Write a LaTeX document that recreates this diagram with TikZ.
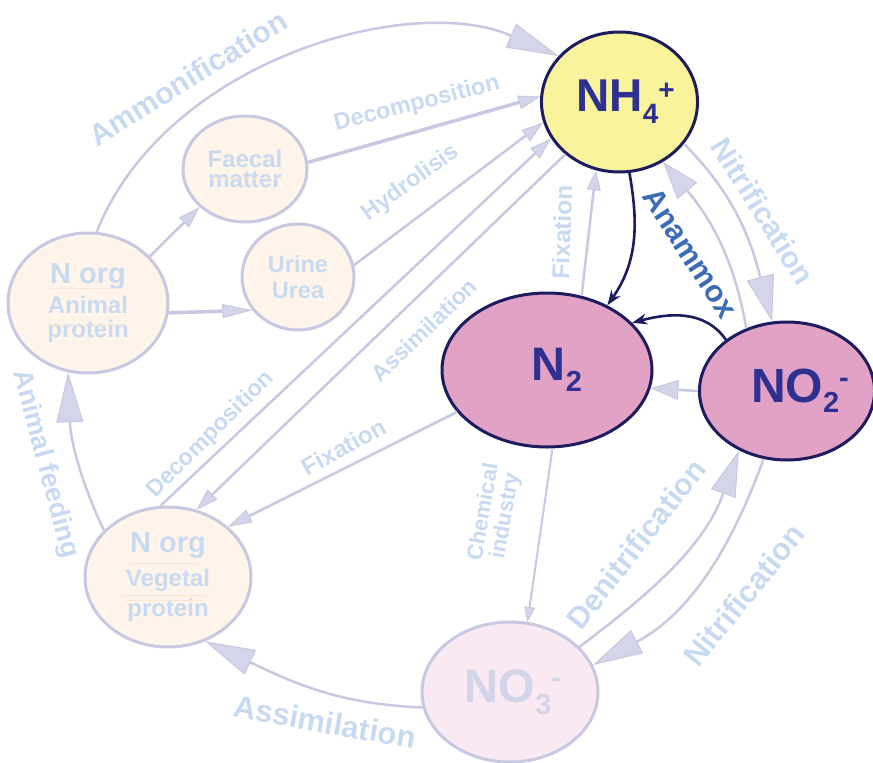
\documentclass[tikz,border=0pt]{standalone}
\usepackage{fontspec}
\setmainfont{Liberation Sans}
\usetikzlibrary{arrows.meta,shapes.geometric}

\definecolor{paleline}{HTML}{C8C8E2}
\definecolor{headfill}{HTML}{D4D4EA}
\definecolor{paletext}{HTML}{C7DAF1}
\definecolor{cream}{HTML}{FEF4EA}
\definecolor{creamrule}{HTML}{FBE4D0}
\definecolor{navy}{HTML}{1C1C5E}
\definecolor{inktext}{HTML}{2E3192}
\definecolor{yellowfill}{HTML}{F9F39B}
\definecolor{pinkfill}{HTML}{E2A2C6}
\definecolor{palepink}{HTML}{FAE9F3}
\definecolor{nothreetext}{HTML}{D2D4EA}
\definecolor{anammoxtext}{HTML}{3B6CB7}

\newcommand{\fs}[1]{\fontsize{#1}{#1}\selectfont}

\tikzset{
  pool/.style={ellipse, inner sep=0pt, line width=3pt, font=\bfseries},
  organic/.style={pool, draw=paleline, fill=cream, text=paletext, align=center},
  mineral/.style={pool, draw=navy, text=inktext},
  flow/.style={draw=paleline, line width=2.5pt},
  tip/.style 2 args={-{Triangle[length=#1pt,width=#2pt,fill=headfill,line width=1pt]}},
  darkflow/.style={draw=navy, line width=2.6pt, -{Stealth[length=15pt,width=11pt]}},
  lbl/.style={text=paletext, font=\bfseries, inner sep=0pt},
  rule/.style={draw=creamrule, line width=0.6pt},
}

\begin{document}
\begin{tikzpicture}[x=1pt,y=1pt]
\useasboundingbox (0,0) rectangle (873,-763);

% ---- pools ----
\node[mineral, fill=yellowfill, minimum width=153pt, minimum height=140pt] (nh4) at (619.5,-102)
  {\hspace*{12pt}\fs{46}NH\raisebox{-12pt}{\fs{28}4}\raisebox{12pt}{\fs{28}+}};
\node[mineral, fill=pinkfill, minimum width=210pt, minimum height=154pt] (n2) at (547,-370)
  {\hspace*{20pt}\fs{47}N\raisebox{-11pt}{\fs{29}2}};
\node[mineral, fill=pinkfill, minimum width=170pt, minimum height=138pt] (no2) at (787,-391)
  {\hspace*{26pt}\fs{48}NO\raisebox{-10pt}{\fs{29}2}\raisebox{15pt}{\fs{29}-}};
\node[pool, draw=paleline, fill=palepink, text=nothreetext, minimum width=176pt, minimum height=140pt] (no3) at (510,-692)
  {\hspace*{6pt}\fs{47}NO\raisebox{-12pt}{\fs{29}3}\raisebox{15pt}{\fs{29}-}};
\node[organic, minimum width=124pt, minimum height=106pt] (faecal) at (245,-169)
  {\fs{24}Faecal\\[3pt]\fs{24}matter};
\node[organic, minimum width=112pt, minimum height=106pt] (urine) at (298,-277)
  {\fs{23.5}Urine\\[9pt]\fs{23.5}Urea};
\node[organic, minimum width=160pt, minimum height=140pt] (animal) at (88,-303)
  {\fs{29}N org\\[6pt]\fs{24}Animal\\[5pt]\fs{24}protein};
\node[organic, minimum width=166pt, minimum height=140pt] (vegetal) at (168,-577)
  {\fs{29}N org\\[9pt]\fs{24}Vegetal\\[7pt]\fs{24}protein};

% faint rules between the text lines
\draw[rule] (209,-178) -- (282,-178);
\draw[rule] (50,-288) -- (120,-288);
\draw[rule] (48,-325) -- (126,-325);
\draw[rule] (130,-563) -- (198,-563);
\draw[rule] (123,-595) -- (206,-595);
\draw[rule] (125,-600) -- (204,-600);

% ---- pale flows ----
\draw[flow, tip={52}{26}] (animal.83) .. controls (165,-60) and (410,8) .. (nh4.143);
\draw[flow, line width=3.5pt, tip={22}{14}] (faecal.6) -- (nh4.176);
\draw[flow, tip={22}{14}] (urine.12) -- (nh4.195);
\draw[flow, tip={22}{14}] (vegetal.96) -- (nh4.208);
\draw[flow, tip={22}{14}] (nh4.224) -- (vegetal.67);
\draw[flow, tip={20}{14}] (n2.65) -- (nh4.251);
\draw[flow, tip={24}{14}] (n2.205) -- (vegetal.40);
\draw[flow, tip={38}{26}] (no2.123) to[out=100,in=-50] (nh4.306);
\draw[flow, tip={46}{28}] (nh4.327) to[out=-45,in=105] (no2.102);
\draw[flow, tip={28}{20}] (no2.180) -- (n2.350);
\draw[flow, line width=2pt, tip={15}{11}] (n2.274) -- (no3.76);
\draw[flow, tip={46}{26}] (no3.33) to[out=37,in=-110] (no2.231);
\draw[flow, tip={50}{26}] (no2.251) to[out=-110,in=28] (no3.18);
\draw[flow, tip={50}{27}] (no3.190) to[out=178,in=-25] (vegetal.300);
\draw[flow, tip={50}{27}] (vegetal.144) to[out=115,in=-88] (animal.254);
\draw[flow, tip={22}{14}] (animal.37) -- (faecal.220);
\draw[flow, line width=3.5pt, tip={30}{14}] (animal.353) -- (urine.216);

% ---- anammox ----
\draw[darkflow] (nh4.278) to[out=-80,in=55] (n2.47);
\draw[darkflow] (no2.140) to[out=125,in=15] (n2.29);

% ---- process labels ----
\node[lbl, rotate=32, font=\bfseries\fs{30}] (lamm) at (188,-78) {Ammonification};
\node[lbl, rotate=14, font=\bfseries\fs{23.5}] (ldectop) at (417,-104) {Decomposition};
\node[lbl, rotate=36, font=\bfseries\fs{23.5}] (lhyd) at (411,-183) {Hydrolisis};
\node[lbl, rotate=44, font=\bfseries\fs{23}] (lassmid) at (424,-330) {Assimilation};
\node[lbl, rotate=45, font=\bfseries\fs{23.3}] (ldeclow) at (211,-435) {Decomposition};
\node[lbl, rotate=29, font=\bfseries\fs{24}] (lfixlow) at (344,-447) {Fixation};
\node[lbl, rotate=88, font=\bfseries\fs{24.5}] (lfixup) at (562,-232) {Fixation};
\node[lbl, rotate=-57, text=anammoxtext, font=\bfseries\fs{30.5}] (lanam) at (690,-253) {Anammox};
\node[lbl, rotate=-58, font=\bfseries\fs{30}] (lnitup) at (763,-211) {Nitrification};
\node[lbl, rotate=51, font=\bfseries\fs{31}] (lnitlow) at (744,-595) {Nitrification};
\node[lbl, rotate=52, font=\bfseries\fs{30.5}] (ldenit) at (636,-544) {Denitrification};
\node[lbl, rotate=-10, font=\bfseries\fs{31}] (lassbot) at (325,-722) {Assimilation};
\node[lbl, rotate=-75, font=\bfseries\fs{27}] (lfeed) at (45,-464) {Animal feeding};
\node[lbl, rotate=80, align=center, font=\bfseries\fs{22}] (lchem) at (495,-514) {Chemical\\industry};
\end{tikzpicture}
\end{document}
